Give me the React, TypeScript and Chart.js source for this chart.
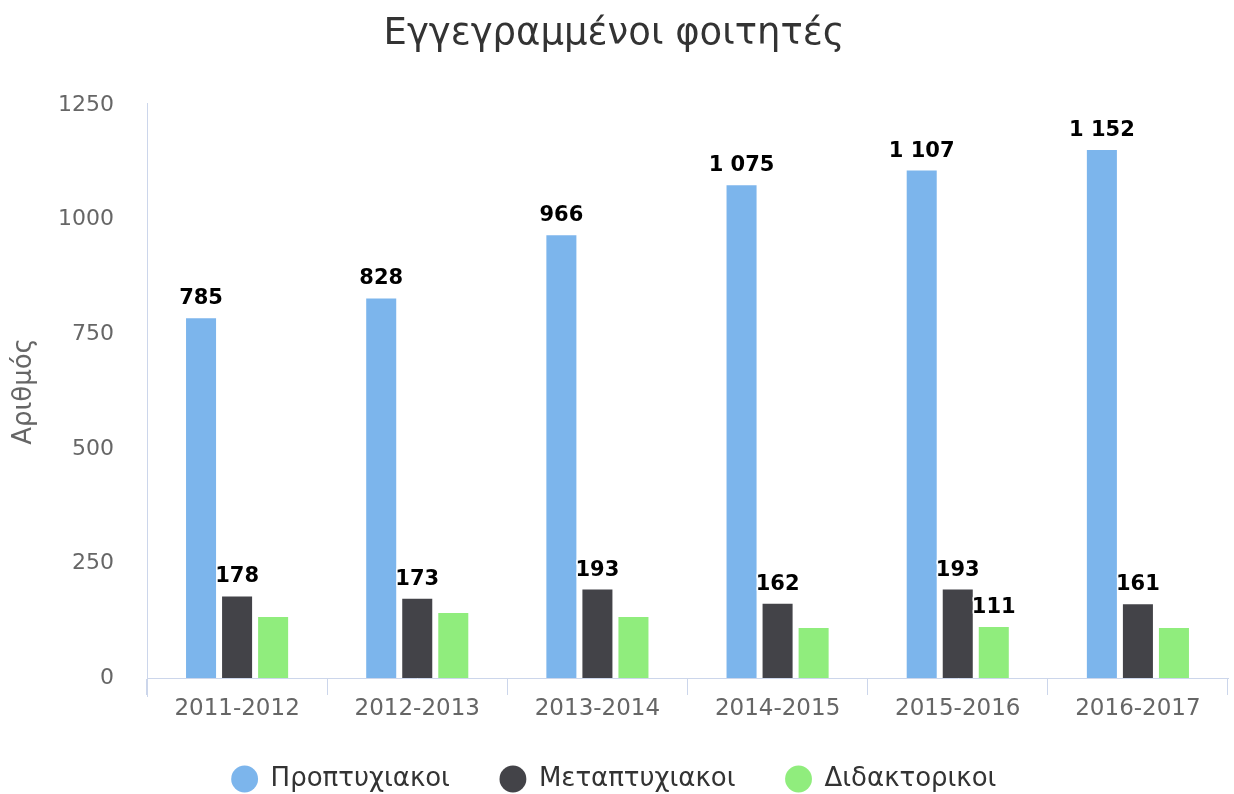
import React, { useEffect, useRef } from "react";
import { Chart, registerables } from "chart.js";

Chart.register(...registerables);

const categories = ["2011-2012", "2012-2013", "2013-2014", "2014-2015", "2015-2016", "2016-2017"];
const undergrad = [785, 828, 966, 1075, 1107, 1152];
const postgrad = [178, 173, 193, 162, 193, 161];
const doctoral = [133, 142, 133, 109, 111, 109];
const undergradLabelShown = [true, true, true, true, true, true];
const postgradLabelShown = [true, true, true, true, true, true];
const doctoralLabelShown = [false, false, false, false, true, false];
const yTicks = [0, 250, 500, 750, 1000, 1250];

const FONT = "'DejaVu Sans', sans-serif";
const AREA_BOTTOM = 678;
const AREA_LEFT = 147;
const X_AXIS_HEIGHT = 46;
const LEGEND_PADDING = 50;
const LEGEND_FONT = 26;
const LEGEND_CENTER_Y = 779;

function fmt(v: number): string {
  const s = String(Math.round(v));
  return s.replace(/\B(?=(\d{3})+(?!\d))/g, " ");
}

const labelsPlugin = {
  id: "valueLabels",
  afterDatasetsDraw(chart: any) {
    const ctx = chart.ctx;
    ctx.save();
    ctx.font = `bold 21px ${FONT}`;
    ctx.textAlign = "center";
    ctx.textBaseline = "alphabetic";
    ctx.lineJoin = "round";
    chart.data.datasets.forEach((ds: any, di: number) => {
      const meta = chart.getDatasetMeta(di);
      meta.data.forEach((el: any, i: number) => {
        if (!ds.labelShown || !ds.labelShown[i]) return;
        const txt = fmt(ds.data[i]);
        const x = el.x;
        const y = el.y - 14;
        ctx.strokeStyle = "#ffffff";
        ctx.lineWidth = 3;
        ctx.strokeText(txt, x, y);
        ctx.fillStyle = "#000000";
        ctx.fillText(txt, x, y);
      });
    });
    ctx.restore();
  },
};

const axisLinePlugin = {
  id: "yAxisLine",
  afterLayout(chart: any) {
    const lg = chart.legend;
    if (lg) {
      const top = LEGEND_CENTER_Y - LEGEND_PADDING - LEGEND_FONT / 2;
      lg.top = top;
      lg.height = chart.height - top;
      lg.bottom = chart.height;
    }
  },
  afterDraw(chart: any) {
    const ctx = chart.ctx;
    const area = chart.chartArea;
    ctx.save();
    ctx.strokeStyle = "#ccd6eb";
    ctx.lineWidth = 1;
    ctx.beginPath();
    ctx.moveTo(Math.round(area.left) + 0.5, area.top - 2);
    ctx.lineTo(Math.round(area.left) + 0.5, area.bottom + 19);
    ctx.stroke();
    ctx.restore();
  },
};

export default function App() {
  const ref = useRef<HTMLCanvasElement | null>(null);

  useEffect(() => {
    if (!ref.current) return;
    const chart = new Chart(ref.current, {
      type: "bar",
      data: {
        labels: categories,
        datasets: [
          {
            label: "Προπτυχιακοι",
            data: undergrad,
            backgroundColor: "#7cb5ec",
            borderWidth: 0,
            labelShown: undergradLabelShown,
          } as any,
          {
            label: "Μεταπτυχιακοι",
            data: postgrad,
            backgroundColor: "#434348",
            borderWidth: 0,
            labelShown: postgradLabelShown,
          } as any,
          {
            label: "Διδακτορικοι",
            data: doctoral,
            backgroundColor: "#90ed7d",
            borderWidth: 0,
            labelShown: doctoralLabelShown,
          } as any,
        ],
      },
      options: {
        animation: false,
        responsive: true,
        maintainAspectRatio: false,
        layout: { padding: { left: 0, right: 6, top: 0, bottom: 0 } },
        datasets: {
          bar: { categoryPercentage: 0.6, barPercentage: 0.8333 },
        },
        plugins: {
          title: {
            display: true,
            text: "Εγγεγραμμένοι φοιτητές",
            color: "#333333",
            font: { family: FONT, size: 37, weight: "normal" },
            padding: { top: 12, bottom: 48.6 },
          },
          legend: {
            position: "bottom",
            maxHeight: 794 - AREA_BOTTOM - X_AXIS_HEIGHT,
            labels: {
              usePointStyle: true,
              pointStyle: "circle",
              boxHeight: 19,
              padding: LEGEND_PADDING,
              color: "#333333",
              font: { family: FONT, size: LEGEND_FONT, weight: "normal" },
            },
          },
          tooltip: { enabled: false },
        },
        scales: {
          x: {
            afterFit(scale: any) {
              scale.height = X_AXIS_HEIGHT;
            },
            grid: {
              display: true,
              drawOnChartArea: false,
              drawTicks: true,
              tickLength: 17,
              color: "#ccd6eb",
              offset: true,
            },
            border: { display: true, color: "#ccd6eb", width: 1 },
            ticks: {
              color: "#666666",
              font: { family: FONT, size: 23 },
              padding: 0,
              maxRotation: 0,
            },
          },
          y: {
            min: 0,
            max: 1250,
            afterFit(scale: any) {
              scale.width = AREA_LEFT;
            },
            afterBuildTicks(scale: any) {
              scale.ticks = yTicks.map((v) => ({ value: v }));
            },
            grid: { display: false, drawTicks: false },
            border: { display: false },
            ticks: {
              color: "#666666",
              font: { family: FONT, size: 22 },
              padding: 33,
              callback: (v: any) => String(v),
            },
            title: {
              display: true,
              text: "Αριθμός",
              color: "#666666",
              font: { family: FONT, size: 26 },
              padding: { top: 9, bottom: 0 },
            },
          },
        },
      },
      plugins: [labelsPlugin, axisLinePlugin],
    } as any);
    return () => chart.destroy();
  }, []);

  return (
    <div style={{ position: "absolute", left: 0, top: 0, width: 1234, height: 794, background: "#fff" }}>
      <canvas ref={ref} />
    </div>
  );
}
